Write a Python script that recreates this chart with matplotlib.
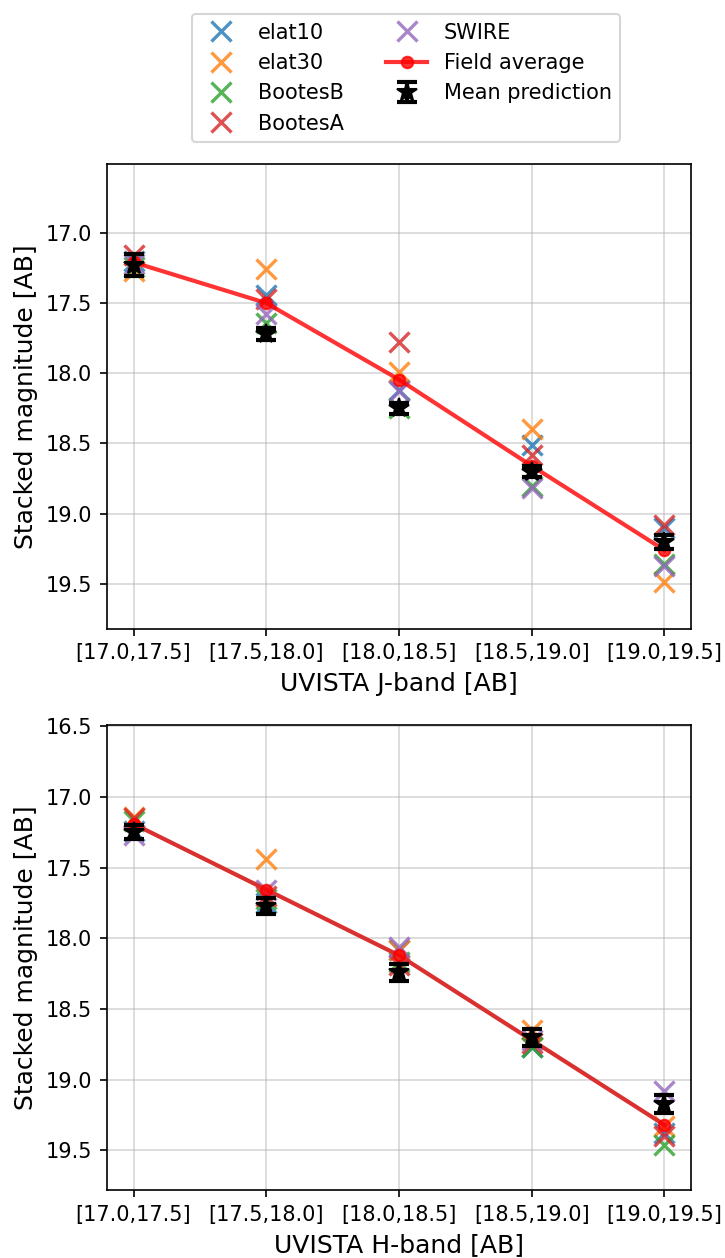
import numpy as np
import matplotlib
matplotlib.use('Agg')
import matplotlib.pyplot as plt

bins = ['[17.0,17.5]', '[17.5,18.0]', '[18.0,18.5]', '[18.5,19.0]', '[19.0,19.5]']
fields = ['elat10', 'elat30', 'BootesB', 'BootesA', 'SWIRE']

# J-band stacked magnitudes per field
j_elat10 = [17.20, 17.44, 18.12, 18.51, 19.10]
j_elat30 = [17.27, 17.26, 17.99, 18.40, 19.49]
j_bootesB = [17.24, 17.64, 18.25, 18.80, 19.36]
j_bootesA = [17.16, 17.47, 17.78, 18.58, 19.08]
j_swire = [17.22, 17.58, 18.13, 18.82, 19.37]
j_avg = [17.21, 17.50, 18.045, 18.66, 19.26]
j_pred = [17.23, 17.72, 18.25, 18.70, 19.20]
j_pred_err = [0.08, 0.04, 0.04, 0.04, 0.05]

# H-band stacked magnitudes per field
h_elat10 = [17.24, 17.75, 18.08, 18.77, 19.38]
h_elat30 = [17.14, 17.44, 18.08, 18.65, 19.33]
h_bootesB = [17.17, 17.72, 18.17, 18.77, 19.46]
h_bootesA = [17.15, 17.70, 18.19, 18.74, 19.40]
h_swire = [17.27, 17.66, 18.06, 18.72, 19.08]
h_avg = [17.19, 17.655, 18.12, 18.72, 19.32]
h_pred = [17.25, 17.77, 18.24, 18.70, 19.17]
h_pred_err = [0.05, 0.055, 0.06, 0.06, 0.065]

fig = plt.figure(figsize=(725 / 150, 1258 / 150), dpi=150)
ax1 = fig.add_axes([0.1476, 0.5002, 0.8055, 0.3694])
ax2 = fig.add_axes([0.1476, 0.0541, 0.8055, 0.3696])

x = np.arange(len(bins))


def panel(ax, series, avg, pred, err, line_color, band):
    for i, (name, vals) in enumerate(zip(fields, series)):
        ax.plot(x, vals, 'x', color='C%d' % i, ms=10, mew=1.6, alpha=0.8,
                label=name, zorder=2)
    if line_color is not None:
        # darker line underneath in the H panel
        ax.plot(x, avg, '-', color=line_color, lw=2, zorder=3)
        ax.plot(x, avg, 'o', color='red', ms=5.5, alpha=0.8, zorder=3)
    else:
        ax.plot(x, avg, '-o', color='red', lw=2, ms=5.5, alpha=0.8,
                label='Field average', zorder=3)
    ax.errorbar(x, pred, yerr=err, fmt='*', color='k', ms=10, capsize=5,
                elinewidth=2, capthick=2, label='Mean prediction', zorder=4)
    ax.set_xticks(x)
    ax.set_xticklabels(bins)
    ax.set_xlim(-0.2, 4.2)
    ax.grid(True, alpha=0.5)
    ax.set_axisbelow(True)
    ax.set_ylabel('Stacked magnitude [AB]', fontsize=12)
    ax.set_xlabel('UVISTA %s-band [AB]' % band, fontsize=12)


panel(ax1, [j_elat10, j_elat30, j_bootesB, j_bootesA, j_swire],
      j_avg, j_pred, j_pred_err, None, 'J')
panel(ax2, [h_elat10, h_elat30, h_bootesB, h_bootesA, h_swire],
      h_avg, h_pred, h_pred_err, '#d93030', 'H')

ax1.set_ylim(19.82, 16.51)
ax2.set_ylim(19.78, 16.49)
ax1.set_yticks([17.0, 17.5, 18.0, 18.5, 19.0, 19.5])
ax2.set_yticks([16.5, 17.0, 17.5, 18.0, 18.5, 19.0, 19.5])

handles, labels = ax1.get_legend_handles_labels()
fig.legend(handles, labels, loc='upper center', bbox_to_anchor=(0.56, 0.997),
           ncol=2, fontsize=10)

fig.savefig('out.png', dpi=150)
